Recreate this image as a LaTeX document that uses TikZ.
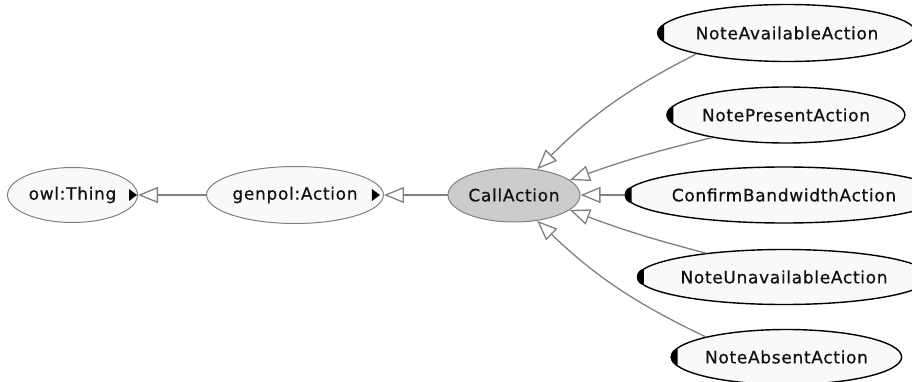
\documentclass[tikz,border=0pt]{standalone}
\usepackage{fontspec}
\newfontfamily\lblfont[LetterSpace=4,FakeBold=0.6]{DejaVu Sans}
\usetikzlibrary{shapes.geometric,arrows.meta}
\definecolor{edgegray}{HTML}{808080}
\definecolor{txt}{HTML}{111111}
\definecolor{callfill}{HTML}{CCCCCC}
\definecolor{nodefill}{HTML}{F9F9F9}
\tikzset{
  base/.style={ellipse, inner sep=0pt, font=\lblfont\fontsize{17}{20}\selectfont, text=txt},
  supnode/.style={base, draw=edgegray, line width=1pt, fill=nodefill},
  callnode/.style={base, draw=edgegray, line width=1pt, fill=callfill},
  subnode/.style={base, draw=black, line width=1.4pt, fill=nodefill},
  isa/.style={draw=edgegray, line width=1.3pt, -{Triangle[open,length=20pt,width=16pt,fill=white]}},
}
\begin{document}
\begin{tikzpicture}[x=1pt,y=1pt]
\useasboundingbox (0,0) rectangle (912,381);
\clip (0,0) rectangle (912,381);
% nodes
\node[supnode, minimum width=130pt, minimum height=55pt] (thing) at (72.5,186) {owl:Thing};
\node[supnode, minimum width=170pt, minimum height=57pt] (genpol) at (295,186) {genpol:Action};
\node[callnode, minimum width=132pt, minimum height=54pt] (call) at (514,186) {CallAction};
\node[subnode, minimum width=230pt, minimum height=57pt] (na) at (787,348) {NoteAvailableAction};
\node[subnode, minimum width=212pt, minimum height=56pt] (np) at (786,266) {NotePresentAction};
\node[subnode, minimum width=262pt, minimum height=56pt] (cb) at (784,186) {ConfirmBandwidthAction};
\node[subnode, minimum width=252pt, minimum height=55pt] (nu) at (784,104) {NoteUnavailableAction};
\node[subnode, minimum width=203pt, minimum height=55pt] (nb) at (786.5,24) {NoteAbsentAction};
% edges
\draw[isa] (genpol.west) -- (thing.east);
\draw[isa] (call.west) -- (genpol.east);
\draw[isa] (na.193) to[bend right=9] (call.48);
\draw[isa] (np.197) to[bend right=3] (call.15);
\draw[isa] (cb.west) -- (call.east);
\draw[isa] (nu.163) to[bend left=3] (call.-15);
\draw[isa] (nb.166) to[bend left=9] (call.-48);
% markers: black triangles on super classes
\fill[black] (thing.east) ++(-9,6) -- ++(8,-6) -- ++(-8,-6) -- cycle;
\fill[black] (genpol.east) ++(-12,6) -- ++(8,-6) -- ++(-8,-6) -- cycle;
% markers: black half-discs on sub classes
\foreach \n in {na,np,cb,nu,nb}{
  \fill[black] (\n.west) ++(7,8) arc[start angle=90,end angle=270,x radius=7,y radius=8] -- cycle;
}
\end{tikzpicture}
\end{document}
